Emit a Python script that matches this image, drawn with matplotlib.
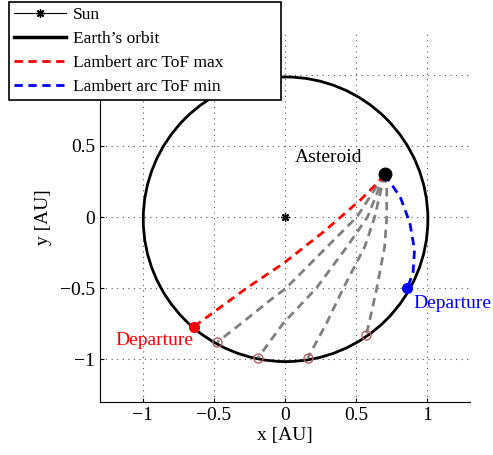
import matplotlib
matplotlib.use("Agg")
import matplotlib.pyplot as plt
from matplotlib.patches import Ellipse
from matplotlib.lines import Line2D

plt.rcParams['font.family'] = ['Liberation Serif', 'DejaVu Serif']

# --- data (AU) ---
sun = (0.0, 0.0)
asteroid = (0.70, 0.30)
orbit_center = (0.004, -0.016)
orbit_width = 2.0
orbit_height = 2.0

# Lambert arc with max time of flight (red)
arc_max_x = [-0.64, -0.53, -0.27, -0.01, 0.27, 0.53, 0.65, 0.70]
arc_max_y = [-0.77, -0.69, -0.50, -0.325, -0.105, 0.12, 0.24, 0.30]

# Lambert arc with min time of flight (blue)
arc_min_x = [0.70, 0.81, 0.877, 0.91, 0.90, 0.86]
arc_min_y = [0.30, 0.14, -0.04, -0.23, -0.39, -0.50]

# intermediate arcs (gray)
gray_arcs_x = [
    [0.70, 0.505, 0.295, 0.007, -0.105, -0.31, -0.477],
    [0.70, 0.58, 0.435, 0.22, -0.015, -0.19],
    [0.70, 0.63, 0.56, 0.41, 0.29, 0.16],
    [0.70, 0.715, 0.715, 0.70, 0.645, 0.59, 0.57],
]
gray_arcs_y = [
    [0.30, 0.0, -0.21, -0.50, -0.585, -0.75, -0.88],
    [0.30, 0.0, -0.21, -0.50, -0.75, -0.99],
    [0.30, 0.0, -0.21, -0.50, -0.75, -0.99],
    [0.30, 0.19, 0.0, -0.21, -0.50, -0.75, -0.83],
]

ticks = [-1, -0.5, 0, 0.5, 1]
xtick_labels = ['\u22121', '\u22120.5', '0', '0.5', '1']
ytick_labels = ['\u22121', '\u22120.5', '0', '0.5', '']  # "1" sits under the legend
lim = (-1.3, 1.3)

fig = plt.figure(figsize=(4.93, 4.55), dpi=100)
ax = fig.add_axes([100 / 493, 53 / 455, 370 / 493, 370 / 455])

dash = (0, (3.0, 2.0))

orbit = Ellipse(orbit_center, orbit_width, orbit_height, fill=False,
                edgecolor='black', linewidth=2, zorder=3)
ax.add_patch(orbit)

for gx, gy in zip(gray_arcs_x, gray_arcs_y):
    ax.plot(gx, gy, color='#808080', linewidth=2, linestyle=dash, zorder=4)
    ax.plot(gx[-1], gy[-1], 'o', markerfacecolor='none',
            markeredgecolor='#b06060', markersize=6.5, markeredgewidth=1, zorder=5)

ax.plot(arc_max_x, arc_max_y, color='red', linewidth=2, linestyle=dash, zorder=4)
ax.plot(arc_min_x, arc_min_y, color='blue', linewidth=2, linestyle=dash, zorder=4)

ax.plot(*sun, marker=(8, 2, 0), color='black', markersize=6, markeredgewidth=1, zorder=6)
ax.plot(*asteroid, 'o', color='black', markersize=9, zorder=6)
ax.plot(arc_max_x[0], arc_max_y[0], 'o', color='red', markersize=7, zorder=6)
ax.plot(arc_min_x[-1], arc_min_y[-1], 'o', color='blue', markersize=7, zorder=6)

ax.text(0.54, 0.42, 'Asteroid', fontsize=14, ha='right', va='center')
ax.text(-0.645, -0.87, 'Departure', fontsize=14, color='red', ha='right', va='center')
ax.text(0.9, -0.61, 'Departure', fontsize=14, color='blue', ha='left', va='center')

ax.set_xlim(lim)
ax.set_ylim(lim)
ax.set_xticks(ticks)
ax.set_yticks(ticks)
ax.set_xticklabels(xtick_labels)
ax.set_yticklabels(ytick_labels)
ax.tick_params(direction='in', length=3, labelsize=14, top=False, right=False)
ax.spines['top'].set_visible(False)
ax.spines['right'].set_visible(False)
ax.grid(True, linestyle=(0, (1, 4)), color='#555555', linewidth=0.8)
ax.set_xlabel('x [AU]', fontsize=14, labelpad=2)
ax.set_ylabel('y [AU]', fontsize=14, labelpad=6)

handles = [
    Line2D([], [], color='black', linewidth=0.8, marker=(8, 2, 0), markersize=6),
    Line2D([], [], color='black', linewidth=2.5),
    Line2D([], [], color='red', linewidth=2, linestyle=dash),
    Line2D([], [], color='blue', linewidth=2, linestyle=dash),
]
labels = ['Sun', "Earth\u2019s orbit", 'Lambert arc ToF max', 'Lambert arc ToF min']
leg = fig.legend(handles, labels, loc='upper left',
                 bbox_to_anchor=(9 / 493, 1 - 2 / 455, 272 / 493, 0), mode='expand',
                 fontsize=12.5, frameon=True, fancybox=False, edgecolor='black',
                 framealpha=1, handlelength=3.0, borderpad=0.3, labelspacing=0.45,
                 handletextpad=0.4, borderaxespad=0)
leg.get_frame().set_linewidth(1.2)
leg.set_zorder(10)

fig.savefig('out.png', dpi=100)
